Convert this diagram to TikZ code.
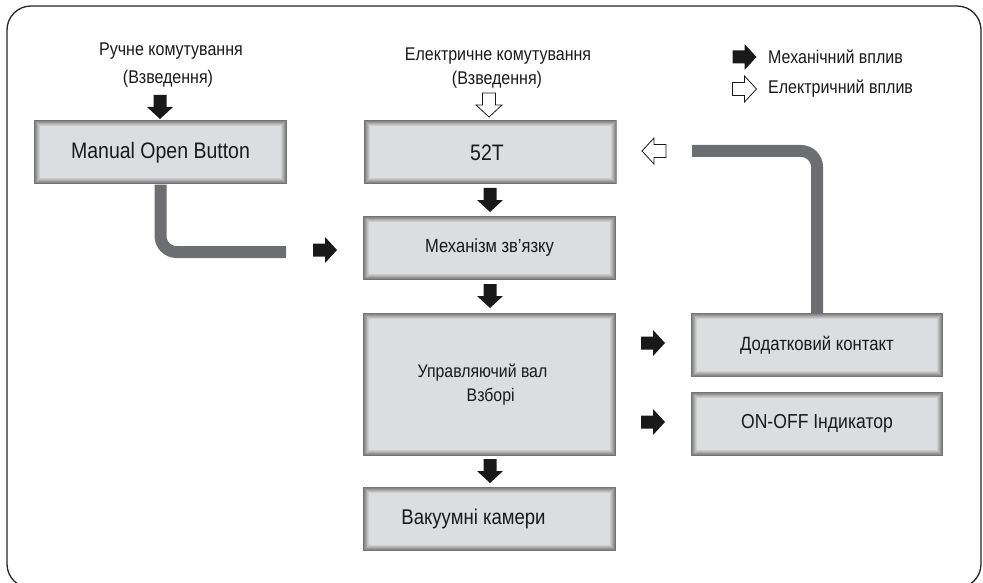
\documentclass[tikz,border=0pt]{standalone}
\usepackage{fontspec}
\setmainfont[FakeStretch=0.87]{Liberation Sans}
\definecolor{boxfill}{HTML}{DCDDDE}
\definecolor{pipec}{HTML}{6D6E71}
\newcommand{\fs}[1]{\fontsize{#1}{#1}\selectfont}
\tikzset{
  bevbox/.style={rectangle, fill=boxfill, inner sep=0pt, minimum width=253pt, minimum height=64pt,
    path picture={
      \foreach \i/\c in {0/55,1/47,2/40,3/33,4/26,5/20}{
        \draw[black!\c, line width=1pt]
          ([xshift={(\i+0.5)*1pt}, yshift={-(\i+0.5)*1pt}]path picture bounding box.north west)
          rectangle
          ([xshift={-(\i+0.5)*1pt}, yshift={(\i+0.5)*1pt}]path picture bounding box.south east);
      }
    }},
  lbl/.style={inner sep=0pt, text=black!90},
  pipe/.style={draw=pipec, line width=12pt, rounded corners=16pt},
  barrow/.pic={\path[pic actions] (-12,-6.5) -- (0,-6.5) -- (0,-13) -- (12,0) -- (0,13) -- (0,6.5) -- (-12,6.5) -- cycle;},
  blk/.style={fill=black!90},
  wht/.style={fill=white, draw=black!90, line width=0.8pt, line join=miter}
}
\begin{document}
\begin{tikzpicture}[x=1pt, y=-1pt]
\useasboundingbox (0,0) rectangle (983,583);
\draw[line width=1.3pt, black!85, rounded corners=24pt] (7,6) rectangle (981,588);

% boxes
\node[bevbox, text=black!90] (manual) at (160.5,152.5) {\fs{22.4}Manual Open Button};
\node[bevbox, text=black!90] (t52) at (490,152.5) {\fs{22.4}52T\hspace*{6pt}};
\node[bevbox, text=black!90] (mech) at (489.5,247.5) {\fs{19}Механізм зв{\char39}язку};
\node[bevbox, text=black!90, minimum height=143pt, align=left] (shaft) at (489.5,384.5)
  {\fs{18.2}Управляючий вал\hspace*{14pt}\\[6pt]\fs{18.2}\hspace*{49pt}Взборі};
\node[bevbox, text=black!90] (vac) at (489.5,519) {\fs{21.3}Вакуумні камери\hspace*{32pt}};
\node[bevbox, text=black!90, minimum width=252pt] (aux) at (817,345) {\fs{19.2}Додатковий контакт};
\node[bevbox, text=black!90, minimum width=252pt] (ind) at (817,424) {\fs{20.2}ON-OFF Індикатор};

% top labels
\node[lbl] (man1) at (171,51) {\fs{18.4}Ручне комутування};
\node[lbl] (man2) at (168,79) {\fs{18.4}(Взведення)};
\node[lbl] (el1) at (498,56) {\fs{18.4}Електричне комутування};
\node[lbl] (el2) at (497,80) {\fs{18.4}(Взведення)};

% legend
\node[lbl, anchor=west] (leg1) at (768,57) {\fs{18.4}Механічний вплив};
\node[lbl, anchor=west] (leg2) at (768,89) {\fs{18.4}Електричний вплив};
\pic[blk] at (744.5,57) {barrow};
\pic[wht] at (744.5,89) {barrow};

% pipes
\coordinate (p1end) at (286,252);
\draw[pipe] (manual.south) |- (p1end);
\coordinate (p2start) at (692,151);
\draw[pipe] (p2start) -| (aux.north);

% arrows
\pic[blk, rotate=-90] at (160,107) {barrow};
\pic[wht, rotate=-90] at (489,105) {barrow};
\pic[wht, rotate=180] at (654,151) {barrow};
\pic[blk, rotate=-90] at (490,200) {barrow};
\pic[blk, rotate=-90] at (490,296) {barrow};
\pic[blk, rotate=-90] at (490,471) {barrow};
\pic[blk] at (325,250) {barrow};
\pic[blk] at (653,343) {barrow};
\pic[blk] at (653,422) {barrow};
\end{tikzpicture}
\end{document}
